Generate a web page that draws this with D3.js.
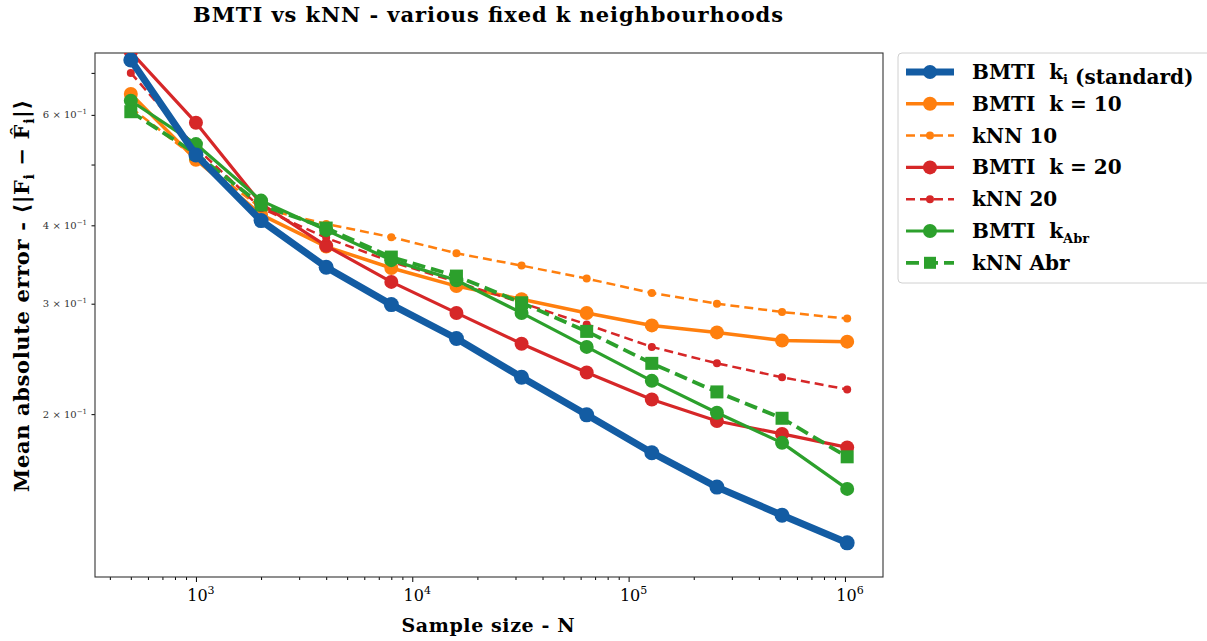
<!DOCTYPE html>
<html>
<head>
<meta charset="utf-8">
<script src="https://cdn.jsdelivr.net/npm/d3@7"></script>
<style>
  html, body { margin: 0; padding: 0; background: #fff; }
  svg { display: block; }
  text { font-family: "DejaVu Serif", "Liberation Serif", serif; }
</style>
</head>
<body>
<svg id="chart" width="1207" height="641"></svg>
<script>
// ---------------- data ----------------
const sampleSizes = [500, 1000, 2000, 4000, 8000, 16000, 32000, 64000, 128000, 256000, 512000, 1024000];
const bmtiStandard = [0.734, 0.518, 0.407, 0.343, 0.299, 0.264, 0.229, 0.1995, 0.1736, 0.153, 0.138, 0.1247];
const bmtiK10      = [0.648, 0.509, 0.416, 0.370, 0.342, 0.320, 0.305, 0.290, 0.277, 0.270, 0.262, 0.261];
const knn10        = [0.616, 0.512, 0.426, 0.402, 0.383, 0.361, 0.345, 0.329, 0.312, 0.300, 0.291, 0.284];
const bmtiK20      = [0.756, 0.583, 0.433, 0.371, 0.325, 0.290, 0.259, 0.233, 0.211, 0.195, 0.186, 0.177];
const knn20        = [0.700, 0.532, 0.426, 0.382, 0.350, 0.325, 0.301, 0.278, 0.256, 0.241, 0.229, 0.219];
const bmtiKAbr     = [0.632, 0.539, 0.438, 0.393, 0.352, 0.327, 0.290, 0.256, 0.226, 0.201, 0.180, 0.152];
const knnAbr       = [0.607, 0.520, 0.431, 0.396, 0.356, 0.332, 0.301, 0.271, 0.241, 0.217, 0.197, 0.171];

const xMajorTicks = [1e3, 1e4, 1e5, 1e6];
const xMajorExponents = ["3", "4", "5", "6"];
const yTicks = [0.2, 0.3, 0.4, 0.5, 0.6, 0.7];
const yTickLabels = {0.2: "2", 0.3: "3", 0.4: "4", 0.6: "6"};

const titleText = "BMTI vs kNN - various fixed k neighbourhoods";
const xLabelText = "Sample size - N";

// ---------------- series table ----------------
const NB = "\u00a0";
const series = [
  {key: "k10",  values: bmtiK10,  color: "#ff7f0e", width: 3.5, dash: null,   marker: "circle", size: 7,   label: [["BMTI" + NB + NB + "k = 10", null]]},
  {key: "n10",  values: knn10,    color: "#ff7f0e", width: 2.5, dash: "9,5",  marker: "circle", size: 4,   label: [["kNN 10", null]]},
  {key: "k20",  values: bmtiK20,  color: "#d62728", width: 3.2, dash: null,   marker: "circle", size: 7,   label: [["BMTI" + NB + NB + "k = 20", null]]},
  {key: "n20",  values: knn20,    color: "#d62728", width: 2.5, dash: "9,5",  marker: "circle", size: 4,   label: [["kNN 20", null]]},
  {key: "kAbr", values: bmtiKAbr, color: "#2ca02c", width: 3.2, dash: null,   marker: "circle", size: 7,   label: [["BMTI" + NB + NB + "k", null], ["Abr", "sub"]]},
  {key: "nAbr", values: knnAbr,   color: "#2ca02c", width: 3.8, dash: "13,6", marker: "square", size: 13,  label: [["kNN Abr", null]]},
  {key: "std",  values: bmtiStandard, color: "#135ca3", width: 7, dash: null, marker: "circle", size: 7.5, label: [["BMTI" + NB + NB + "k", null], ["i", "sub"], [NB + "(standard)", null]]}
];
const legendOrder = ["std", "k10", "n10", "k20", "n20", "kAbr", "nAbr"];

// ---------------- layout ----------------
const svg = d3.select("#chart");
const plot = {left: 95, right: 883, top: 53, bottom: 577};

const x = d3.scaleLog()
  .domain([Math.pow(10, 2.5334), Math.pow(10, 6.1759)])
  .range([plot.left, plot.right]);
const y = d3.scaleLog()
  .domain([0.110, 0.753])
  .range([plot.bottom, plot.top]);

svg.append("defs").append("clipPath").attr("id", "clip")
  .append("rect")
  .attr("x", plot.left).attr("y", plot.top)
  .attr("width", plot.right - plot.left).attr("height", plot.bottom - plot.top);

// title
svg.append("text")
  .attr("x", 488).attr("y", 22)
  .attr("text-anchor", "middle")
  .attr("font-size", 21).attr("font-weight", "bold")
  .attr("textLength", 590)
  .text(titleText);

// ---------------- axes ----------------
const xMinor = [];
for (let e = 2; e <= 6; e++) {
  for (let m = 2; m <= 9; m++) {
    const v = m * Math.pow(10, e);
    if (v > x.domain()[0] && v < x.domain()[1]) xMinor.push(v);
  }
}

const gx = svg.append("g").attr("transform", `translate(0,${plot.bottom})`);
gx.call(d3.axisBottom(x).tickValues(xMinor).tickSize(3).tickFormat(""));
gx.append("g").call(d3.axisBottom(x).tickValues(xMajorTicks).tickSize(5).tickFormat(""));
gx.selectAll(".domain").remove();
gx.selectAll("line").attr("stroke", "#000").attr("stroke-width", 1);

xMajorTicks.forEach((v, i) => {
  const t = gx.append("text")
    .attr("x", x(v) + 5).attr("y", 24)
    .attr("text-anchor", "middle")
    .attr("font-size", 16).attr("fill", "#000");
  t.append("tspan").text("10");
  t.append("tspan").attr("dy", -7).attr("font-size", 11).text(xMajorExponents[i]);
});

const gy = svg.append("g").attr("transform", `translate(${plot.left},0)`);
gy.call(d3.axisLeft(y).tickValues(yTicks).tickSize(3.5).tickFormat(""));
gy.selectAll(".domain").remove();
gy.selectAll("line").attr("stroke", "#000").attr("stroke-width", 1);

yTicks.forEach(v => {
  if (!yTickLabels[v]) return;
  const t = gy.append("text")
    .attr("x", -8).attr("y", y(v) + 3.5)
    .attr("text-anchor", "end")
    .attr("font-size", 10).attr("fill", "#333");
  t.append("tspan").text(yTickLabels[v] + " \u00d7 10");
  t.append("tspan").attr("dy", -4).attr("font-size", 7).text("\u22121");
});

// frame
svg.append("rect")
  .attr("x", plot.left).attr("y", plot.top)
  .attr("width", plot.right - plot.left).attr("height", plot.bottom - plot.top)
  .attr("fill", "none").attr("stroke", "#333").attr("stroke-width", 1.1);

// axis labels
svg.append("text")
  .attr("x", 488).attr("y", 632)
  .attr("text-anchor", "middle")
  .attr("font-size", 19).attr("font-weight", "bold")
  .attr("textLength", 173)
  .text(xLabelText);

const yl = svg.append("text")
  .attr("transform", "translate(29,296) rotate(-90)")
  .attr("text-anchor", "middle")
  .attr("font-size", 21).attr("font-weight", "bold")
  .attr("textLength", 392);
yl.append("tspan").text("Mean absolute error - \u27e8|F");
yl.append("tspan").attr("dy", 5).attr("font-size", 14).text("i");
yl.append("tspan").attr("dy", -5).text(" \u2212 F\u0302");
yl.append("tspan").attr("dy", 5).attr("font-size", 14).text("i");
yl.append("tspan").attr("dy", -5).text("|\u27e9");

// ---------------- series ----------------
const gData = svg.append("g").attr("clip-path", "url(#clip)");
const line = d3.line()
  .x((d, i) => x(sampleSizes[i]))
  .y(d => y(d));

function drawMarker(g, s, cx, cy) {
  if (s.marker === "square") {
    g.append("rect")
      .attr("x", cx - s.size / 2).attr("y", cy - s.size / 2)
      .attr("width", s.size).attr("height", s.size)
      .attr("fill", s.color);
  } else {
    g.append("circle").attr("cx", cx).attr("cy", cy).attr("r", s.size).attr("fill", s.color);
  }
}

series.forEach(s => {
  const g = gData.append("g");
  g.append("path")
    .datum(s.values)
    .attr("d", line)
    .attr("fill", "none")
    .attr("stroke", s.color)
    .attr("stroke-width", s.width)
    .attr("stroke-linejoin", "round")
    .attr("stroke-dasharray", s.dash);
  s.values.forEach((v, i) => drawMarker(g, s, x(sampleSizes[i]), y(v)));
});

// ---------------- legend ----------------
const lg = svg.append("g");
lg.append("rect")
  .attr("x", 898).attr("y", 53).attr("width", 320).attr("height", 230)
  .attr("rx", 4).attr("fill", "#fff").attr("stroke", "#d0d0d0").attr("stroke-width", 1);

legendOrder.forEach((k, i) => {
  const s = series.find(d => d.key === k);
  const yy = 72 + i * 31.8;
  lg.append("line")
    .attr("x1", 906).attr("x2", 954).attr("y1", yy).attr("y2", yy)
    .attr("stroke", s.color).attr("stroke-width", s.width)
    .attr("stroke-dasharray", s.dash);
  const ms = Object.assign({}, s, {size: s.marker === "square" ? 12 : (s.size > 5 ? 7 : 4)});
  drawMarker(lg, ms, 930, yy);
  const t = lg.append("text")
    .attr("x", 972).attr("y", yy + 7)
    .attr("font-size", 20).attr("font-weight", "bold").attr("fill", "#000");
  s.label.forEach(([txt, kind]) => {
    if (kind === "sub") {
      t.append("tspan").attr("dy", 5).attr("font-size", 13).text(txt);
      t.append("tspan").attr("dy", -5).text("");
    } else {
      t.append("tspan").text(txt);
    }
  });
});
</script>
</body>
</html>
